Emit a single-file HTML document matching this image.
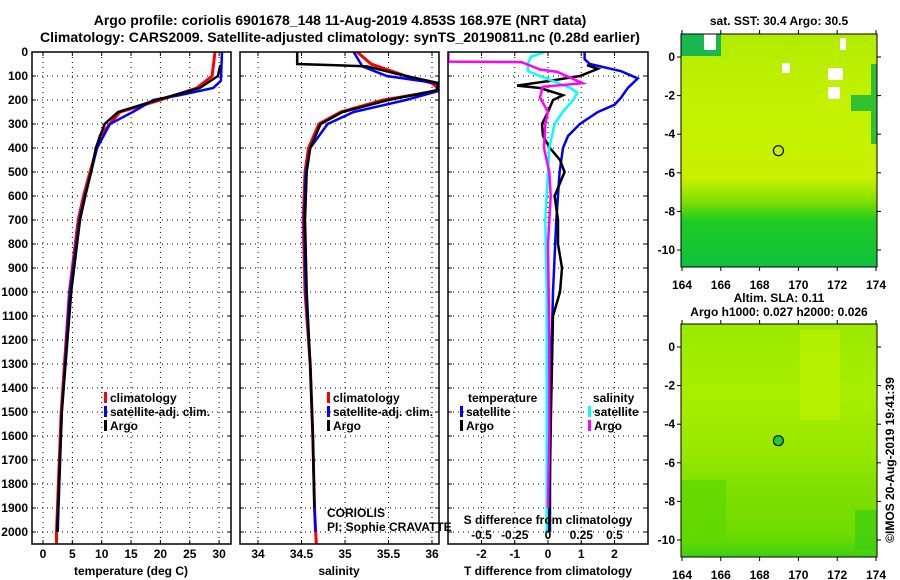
<!DOCTYPE html>
<html><head><meta charset="utf-8"><style>
html,body{margin:0;padding:0;background:#fff;}
svg{display:block;font-family:"Liberation Sans",sans-serif;}
.t{font-weight:bold;font-size:12px;}
</style></head><body>
<svg id="c" width="900" height="580" viewBox="0 0 900 580" xmlns="http://www.w3.org/2000/svg">
<text x="340" y="25" text-anchor="middle" font-size="14" font-weight="bold">Argo profile: coriolis 6901678_148 11-Aug-2019 4.853S 168.97E (NRT data)</text>
<text x="340" y="42" text-anchor="middle" font-size="14" font-weight="bold">Climatology: CARS2009. Satellite-adjusted climatology: synTS_20190811.nc (0.28d earlier)</text>
<g id="g"></g>
</svg>
<script>
// ---- data ----
const depthTicks=[0,100,200,300,400,500,600,700,800,900,1000,1100,1200,1300,1400,1500,1600,1700,1800,1900,2000];
const tTicks=[0,5,10,15,20,25,30];
const sTicks=[34,34.5,35,35.5,36];
const dTTicks=[-2,-1,0,1,2];
const dSTicks=[-0.5,-0.25,0,0.25,0.5];
const sLabels=["-0.5","-0.25","0","0.25","0.5"];
const lonTicks=[164,166,168,170,172,174];
const latTicks=[0,-2,-4,-6,-8,-10];

const tClimDepth=[0,100,150,200,250,300,350,400,500,600,700,1000,1500,2000,2050];
const tClimVal=[29.3,28.8,26.2,20,13.1,11.4,9.7,9.2,8,6.9,6,4.5,3.1,2.3,2.3];
const tSatDepth=[0,120,150,180,200,250,300,350,400,500,600,700,1000,1500,2000];
const tSatVal=[30.5,30.3,29,23.3,18.8,15.3,11.4,10.3,9.2,8.2,7.1,6.2,4.6,3.2,2.5];
const tArgoDepth=[55,100,150,200,250,300,400,500,600,700,1000,1500,2000];
const tArgoVal=[30.2,29.8,26.7,19.4,12.8,10.5,9,8.2,7.2,6.3,4.8,3.2,2.4];

const sClimDepth=[0,50,100,130,160,200,250,300,400,500,700,1000,1300,1600,1900,2050];
const sClimVal=[35.14,35.3,35.7,36.0,36.1,35.44,34.95,34.7,34.58,34.54,34.52,34.54,34.6,34.63,34.65,34.67];
const sSatDepth=[0,60,100,130,160,200,250,300,400,500,700,1000,1300,1600,1900,2000];
const sSatVal=[35.1,35.2,35.48,36.05,36.1,35.7,35.1,34.8,34.6,34.55,34.53,34.55,34.6,34.63,34.65,34.66];
const sArgoDepth=[0,50,55,60,100,130,160,200,250,300,400,500,700,1000,1300,1600,1900];
const sArgoVal=[34.45,34.45,34.9,35.25,35.7,36.08,36.05,35.5,34.97,34.72,34.6,34.56,34.54,34.56,34.6,34.63,34.65];

const dTSatDepth=[0,30,50,80,110,150,190,220,250,300,350,400,500,700,1000,1500,2000];
const dTSatVal=[1.1,1.1,1.26,2.2,2.7,2.4,2.2,2.0,1.5,0.96,0.6,0.45,0.35,0.25,0.15,0.06,0.06];
const dTArgoDepth=[55,70,100,120,140,150,180,200,250,300,350,400,450,500,600,700,800,900,1000,1100,1300,1500,2000];
const dTArgoVal=[1.17,1.5,0.96,0.06,-0.93,-0.24,0.45,0.15,0,-0.18,-0.15,0.06,0.36,0.5,0.2,0.3,0.3,0.42,0.36,0.15,0.12,0.09,0.03];
const dSSatDepth=[0,20,50,80,100,150,170,200,250,300,400,500,700,1000,1500,2000];
const dSSatVal=[-0.02,-0.13,-0.15,-0.15,-0.06,0.17,0.22,0.19,0.11,0.05,0.01,0,-0.02,-0.01,-0.01,-0.01];
const dSArgoDepth=[0,40,42,73,83,130,145,190,250,300,400,500,600,800,1200,1600,1900];
const dSArgoVal=[-0.75,-0.75,-0.2,-0.06,0.07,0.26,-0.04,-0.06,0,-0.02,-0.03,0.01,0.02,0,0.01,0.01,0];

// ---- layout ----
const NS="http://www.w3.org/2000/svg";
const G=document.getElementById('g');
function el(tag,at,parent){const e=document.createElementNS(NS,tag);for(const k in at)e.setAttribute(k,at[k]);(parent||G).appendChild(e);return e;}
const Y0=52,YB=544;
const yD=d=>Y0+d*0.24;
const P1={x0:32,x1:231,sx:v=>43+v*5.87};
const P2={x0:240,x1:439,sx:v=>258+(v-34)*87};
const P3={x0:448,x1:648,sx:v=>548+v*33.25};
const sxS=v=>548+v*133;

function clipRect(id,p){const cp=el('clipPath',{id:id});el('rect',{x:p.x0,y:Y0,width:p.x1-p.x0,height:YB-Y0},cp);}
function grid(p,xs){
  depthTicks.forEach(d=>{const l=el('line',{x1:p.x0,x2:p.x1,y1:yD(d),y2:yD(d),stroke:'#000','stroke-dasharray':'1,4','stroke-width':1});
    el('line',{x1:p.x0,x2:p.x0+4,y1:yD(d),y2:yD(d),stroke:'#000'});el('line',{x1:p.x1-4,x2:p.x1,y1:yD(d),y2:yD(d),stroke:'#000'});});
  xs.forEach(x=>{const l=el('line',{x1:x,x2:x,y1:Y0,y2:YB,stroke:'#000','stroke-dasharray':'1,4','stroke-width':1});
    el('line',{x1:x,x2:x,y1:YB-4,y2:YB,stroke:'#000'});el('line',{x1:x,x2:x,y1:Y0,y2:Y0+4,stroke:'#000'});});
}
function frame(p,name){const r=el('rect',{x:p.x0,y:Y0,width:p.x1-p.x0,height:YB-Y0,fill:'none',stroke:'#000','stroke-width':1.5});}
function line(ds,vs,sx,color,w,clip,name){
  let d='';ds.forEach((dd,i)=>{d+=(i?'L':'M')+sx(vs[i]).toFixed(1)+','+yD(dd).toFixed(1);});
  const p=el('path',{d:d,fill:'none',stroke:color,'stroke-width':w,'clip-path':'url(#'+clip+')'});
  }
function txt(x,y,s,anchor,cls,name,extra){const t=el('text',Object.assign({x:x,y:y,'text-anchor':anchor||'middle','class':cls||'t'},extra||{}));t.textContent=s;return t;}
function legItem(x,y,color,label,name){const r=el('rect',{x:x,y:y-10,width:3,height:11,fill:color});txt(x+6,y,label,'start','t',name);}

[P1,P2,P3].forEach((p,i)=>clipRect('cp'+i,p));
// panel1
grid(P1,tTicks.map(P1.sx));
line(tClimDepth,tClimVal,P1.sx,'#f00',3,'cp0','temp-climatology-line');
line(tSatDepth,tSatVal,P1.sx,'#00f',2.5,'cp0','temp-satellite-line');
line(tArgoDepth,tArgoVal,P1.sx,'#000',2.5,'cp0','temp-argo-line');
frame(P1,'temperature-panel');
depthTicks.forEach(d=>txt(28,yD(d)+4,String(d),'end','t','depth-tick-label'));
tTicks.forEach(v=>txt(P1.sx(v),558,String(v),'middle','t','temp-tick-label'));
txt(131,575,'temperature (deg C)','middle','t','temp-axis-title');
legItem(104,402,'#f00','climatology','legend-climatology');
legItem(104,416,'#00f','satellite-adj. clim.','legend-satellite');
legItem(104,430,'#000','Argo','legend-argo');
// panel2
grid(P2,sTicks.map(P2.sx));
line(sClimDepth,sClimVal,P2.sx,'#f00',3,'cp1','sal-climatology-line');
line(sSatDepth,sSatVal,P2.sx,'#00f',2.5,'cp1','sal-satellite-line');
line(sArgoDepth,sArgoVal,P2.sx,'#000',2.5,'cp1','sal-argo-line');
frame(P2,'salinity-panel');
sTicks.forEach(v=>txt(P2.sx(v),558,String(v),'middle','t','sal-tick-label'));
txt(339,575,'salinity','middle','t','sal-axis-title');
legItem(327,402,'#f00','climatology','legend2-climatology');
legItem(327,416,'#00f','satellite-adj. clim.','legend2-satellite');
legItem(327,430,'#000','Argo','legend2-argo');
txt(327,517,'CORIOLIS','start','','coriolis-label',{'font-size':12});
txt(327,531,'PI: Sophie CRAVATTE','start','','pi-label',{'font-size':12});
// panel3
grid(P3,dTTicks.map(P3.sx));
line(dTSatDepth,dTSatVal,P3.sx,'#00f',2.5,'cp2','dtemp-satellite-line');
line(dTArgoDepth,dTArgoVal,P3.sx,'#000',2.5,'cp2','dtemp-argo-line');
line(dSSatDepth,dSSatVal,sxS,'#0ff',2.5,'cp2','dsal-satellite-line');
line(dSArgoDepth,dSArgoVal,sxS,'#f0f',2.5,'cp2','dsal-argo-line');
frame(P3,'difference-panel');
dTTicks.forEach(v=>txt(P3.sx(v),558,String(v),'middle','t','dtemp-tick-label'));
dSTicks.forEach((v,i)=>txt(sxS(v),539,sLabels[i],'middle','t','dsal-tick-label'));
txt(548,524,'S difference from climatology','middle','t','dsal-axis-title');
txt(548,575,'T difference from climatology','middle','t','dtemp-axis-title');
txt(468,402,'temperature','start','t','legend3-temperature-heading');
legItem(460,416,'#00f','satellite','legend3-temp-satellite');
legItem(460,430,'#000','Argo','legend3-temp-argo');
txt(593,402,'salinity','start','t','legend3-salinity-heading');
legItem(588,416,'#0ff','satellite','legend3-sal-satellite');
legItem(588,430,'#f0f','Argo','legend3-sal-argo');

// maps
const MX0=681,MX1=877;
const lonX=l=>682+(l-164)*19.4;
function map(yTop,latY,name,bottom,circleFill){
  const lat=v=>latY+(-v)*19.3;
  const gid=name+'-grad';
  const defs=el('defs',{});
  const lg=el('linearGradient',{id:gid,x1:0,y1:0,x2:0,y2:1},defs);
  bottom.forEach(s=>el('stop',{offset:s[0],'stop-color':s[1]},lg));
  const r=el('rect',{x:MX0,y:yTop,width:MX1-MX0,height:233,fill:'url(#'+gid+')'});
  
  return {lat:lat};
}
// top SST map
let m1=map(34,57,'sst-map',[[0,'#b0ec00'],[0.3,'#c4f200'],[0.62,'#c8f000'],[0.72,'#80e000'],[0.8,'#20cc20'],[1,'#10c040']]);
el('rect',{x:681,y:34,width:40,height:22,fill:'#18b850'});
el('rect',{x:704,y:34,width:12,height:16,fill:'#fff'});
el('rect',{x:782,y:63,width:8,height:10,fill:'#fff'});
el('rect',{x:828,y:68,width:15,height:12,fill:'#fff'});
el('rect',{x:828,y:87,width:12,height:12,fill:'#fff'});
el('rect',{x:840,y:38,width:6,height:12,fill:'#fff'});
el('rect',{x:871,y:64,width:6,height:80,fill:'#30c030'});
el('rect',{x:851,y:95,width:20,height:16,fill:'#30c030'});
el('circle',{cx:lonX(168.97),cy:m1.lat(-4.853),r:5,fill:'none',stroke:'#000','stroke-width':1.2});
// bottom SLA map
let m2=map(324,347,'sla-map',[[0,'#9aea00'],[0.3,'#a8ee00'],[0.55,'#98e800'],[0.7,'#80e000'],[0.9,'#70dc00'],[1,'#40d010']]);
el('rect',{x:800,y:330,width:40,height:90,fill:'#bcf200',opacity:0.7});
el('rect',{x:681,y:480,width:45,height:60,fill:'#60d800',opacity:0.8});
el('rect',{x:855,y:510,width:22,height:40,fill:'#40d010',opacity:0.8});
el('circle',{cx:lonX(168.97),cy:m2.lat(-4.853),r:5,fill:'#20d020',stroke:'#000','stroke-width':1.2});
[[34,57,'sst'],[324,347,'sla']].forEach(([yt,ly,n])=>{
  const f=el('rect',{x:MX0,y:yt,width:MX1-MX0,height:233,fill:'none',stroke:'#000','stroke-width':1});
  
  latTicks.forEach(v=>{const y=ly+(-v)*19.3;el('line',{x1:MX0-4,x2:MX0,y1:y,y2:y,stroke:'#000'});el('line',{x1:MX1,x2:MX1+4,y1:y,y2:y,stroke:'#000'});txt(675,y+4,String(v),'end','t',n+'-lat-tick-label');});
  lonTicks.forEach(v=>{const x=lonX(v);el('line',{x1:x,x2:x,y1:yt+233,y2:yt+237,stroke:'#000'});el('line',{x1:x,x2:x,y1:yt-4,y2:yt,stroke:'#000'});txt(x,yt+255,String(v),'middle','t',n+'-lon-tick-label');});
});
txt(779,25,'sat. SST: 30.4 Argo: 30.5','middle','t','sst-map-title');
txt(779,302,'Altim. SLA: 0.11','middle','t','sla-map-title');
txt(779,316,'Argo h1000: 0.027 h2000: 0.026','middle','t','sla-map-subtitle');
txt(894,460,'©IMOS 20-Aug-2019 19:41:39','middle','','imos-timestamp',{'font-size':12,transform:'rotate(-90 894 460)'});
</script>
</body></html>
